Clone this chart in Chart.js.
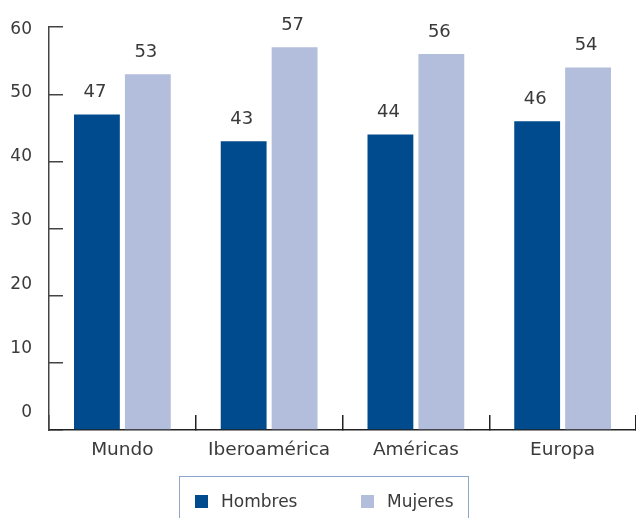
<!DOCTYPE html>
<html>
<head>
<meta charset="utf-8">
<script src="https://cdn.jsdelivr.net/npm/chart.js@4.4.1/dist/chart.umd.min.js"></script>
<style>
  html, body { margin: 0; padding: 0; background: #fff; }
  .wrap { position: relative; width: 636px; height: 518px; overflow: hidden; }
  #chart { display: block; }
  .legend {
    position: absolute; left: 179px; top: 476px; width: 290px; height: 60px;
    border: 1px solid #8ea5cc; box-sizing: border-box;
    font: 17px "DejaVu Sans", sans-serif; color: #3a3a3a;
  }
  .legend .item { position: absolute; top: 14px; display: flex; align-items: center; white-space: nowrap; }
  .legend .swatch { width: 13px; height: 13px; margin-right: 13px; }
</style>
</head>
<body>
<div class="wrap">
  <canvas id="chart" width="636" height="518"></canvas>
  <div class="legend" id="legend"></div>
</div>
<script>
const regions = ["Mundo", "Iberoamérica", "Américas", "Europa"];
const hombres = [47, 43, 44, 46];
const mujeres = [53, 57, 56, 54];
const yTicks = [0, 10, 20, 30, 40, 50, 60];

const textColor = "#3a3a3a";
Chart.defaults.font.family = '"DejaVu Sans", sans-serif';
Chart.defaults.font.size = 17;
Chart.defaults.color = textColor;

// numbers above each bar
const valueLabels = {
  id: "valueLabels",
  afterDatasetsDraw(chart) {
    const ctx = chart.ctx;
    ctx.save();
    ctx.font = '18px "DejaVu Sans", sans-serif';
    ctx.fillStyle = textColor;
    ctx.textAlign = "center";
    ctx.textBaseline = "middle";
    chart.data.datasets.forEach((ds, i) => {
      chart.getDatasetMeta(i).data.forEach((bar, j) => {
        ctx.fillText(ds.data[j], bar.x - 2, bar.y - 22);
      });
    });
    ctx.restore();
  },
};

const chart = new Chart(document.querySelector("#chart"), {
  type: "bar",
  data: {
    labels: regions,
    datasets: [
      { label: "Hombres", data: hombres, backgroundColor: "#004b8d" },
      { label: "Mujeres", data: mujeres, backgroundColor: "#b3bddc" },
    ],
  },
  options: {
    responsive: false,
    animation: false,
    categoryPercentage: 0.694,
    barPercentage: 0.9,
    layout: { padding: { top: 24, left: 0, right: 0, bottom: 0 } },
    plugins: { legend: { display: false }, tooltip: { enabled: false } },
    scales: {
      x: {
        grid: { offset: true, drawOnChartArea: false, tickLength: -15, color: "#222", lineWidth: 1.5 },
        border: { color: "#222", width: 1.5 },
        ticks: { padding: 24, maxRotation: 0, font: { size: 18.5 } },
        afterFit(axis) { axis.height = 88; },
      },
      // axis line with inward tick marks
      y: {
        position: "left",
        weight: 0,
        min: 0,
        max: 60,
        ticks: { display: false, stepSize: 10 },
        grid: { drawOnChartArea: false, tickLength: -14, color: "#444", lineWidth: 1.5 },
        border: { color: "#444", width: 1.5 },
        afterFit(axis) { axis.width = 0; },
      },
      // tick labels sit on their own slightly tighter spacing
      yl: {
        position: "left",
        weight: 1,
        min: -2.8,
        max: 60.31,
        grid: { display: false, drawTicks: false },
        border: { display: false },
        ticks: { padding: 17 },
        afterBuildTicks(axis) { axis.ticks = yTicks.map((v) => ({ value: v })); },
        afterFit(axis) { axis.width = 49; },
      },
    },
  },
  plugins: [valueLabels],
});

// legend box under the chart
const legend = document.querySelector("#legend");
chart.data.datasets.forEach((ds, i) => {
  const item = document.createElement("div");
  item.className = "item";
  item.style.left = 15 + i * 166 + "px";
  const swatch = document.createElement("span");
  swatch.className = "swatch";
  swatch.style.background = ds.backgroundColor;
  item.appendChild(swatch);
  item.appendChild(document.createTextNode(ds.label));
  legend.appendChild(item);
});
</script>
</body>
</html>
